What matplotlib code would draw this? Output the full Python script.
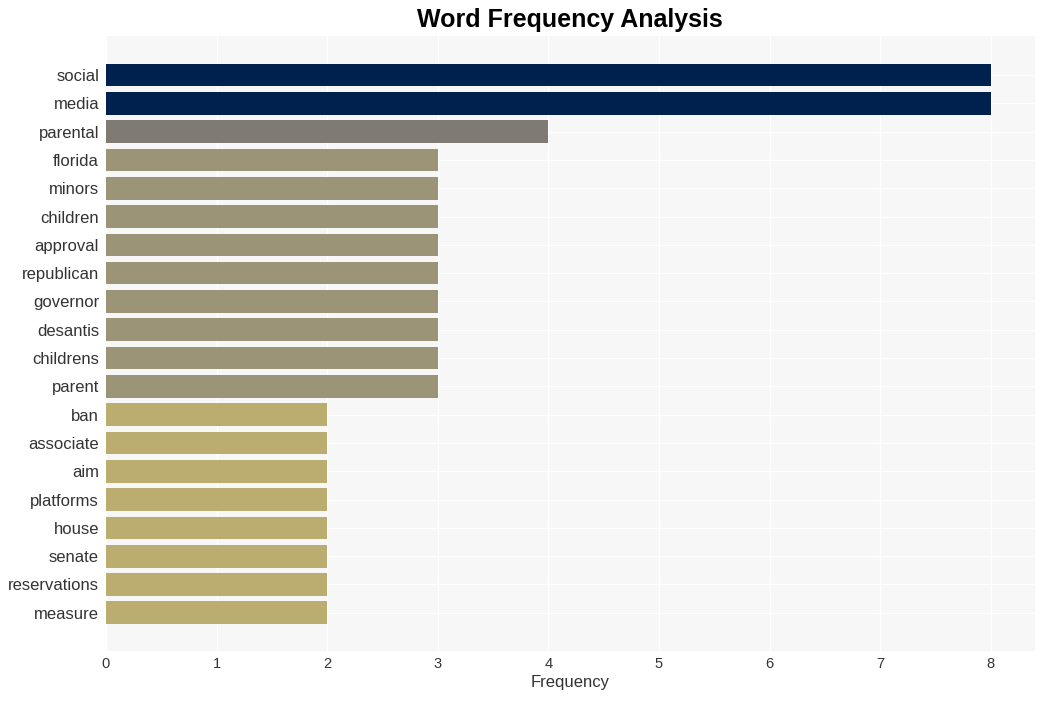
import matplotlib
matplotlib.use("Agg")
import matplotlib.pyplot as plt

plt.rcParams['font.family'] = ['Liberation Sans', 'DejaVu Sans']

words = ["social", "media", "parental", "florida", "minors", "children", "approval",
         "republican", "governor", "desantis", "childrens", "parent", "ban", "associate",
         "aim", "platforms", "house", "senate", "reservations", "measure"]
freqs = [8, 8, 4, 3, 3, 3, 3, 3, 3, 3, 3, 3, 2, 2, 2, 2, 2, 2, 2, 2]
color_map = {8: "#00214d", 4: "#7f7b73", 3: "#9b9477", 2: "#bbad6f"}
colors = [color_map[f] for f in freqs]

fig = plt.figure(figsize=(10.45, 7.01), dpi=100)
ax = fig.add_axes([106/1045, 1 - 651/701, (1035-106)/1045, (651-36)/701])
ax.set_facecolor("#f7f7f7")
ypos = list(range(len(words)))
ax.barh(ypos, freqs, height=0.8, color=colors, zorder=2)
ax.set_yticks(ypos)
ax.set_yticklabels(words, fontsize=12, color="#333333")
ax.set_ylim(len(words) - 1 + 1.35, -1.38)
ax.set_xlim(0, 8.4)
ax.set_xticks(range(9))
ax.tick_params(axis='x', labelsize=10.5, colors="#333333", length=0, pad=4)
ax.tick_params(axis='y', length=0, pad=5)
ax.grid(True, color="white", linewidth=1, zorder=0)
ax.set_axisbelow(True)
for s in ax.spines.values():
    s.set_visible(False)
ax.set_xlabel("Frequency", fontsize=12, color="#333333", labelpad=3)
fig.suptitle("Word Frequency Analysis", fontsize=18, fontweight="bold", y=0.988, x=0.545)
fig.savefig("out.png", dpi=100, facecolor="white")
